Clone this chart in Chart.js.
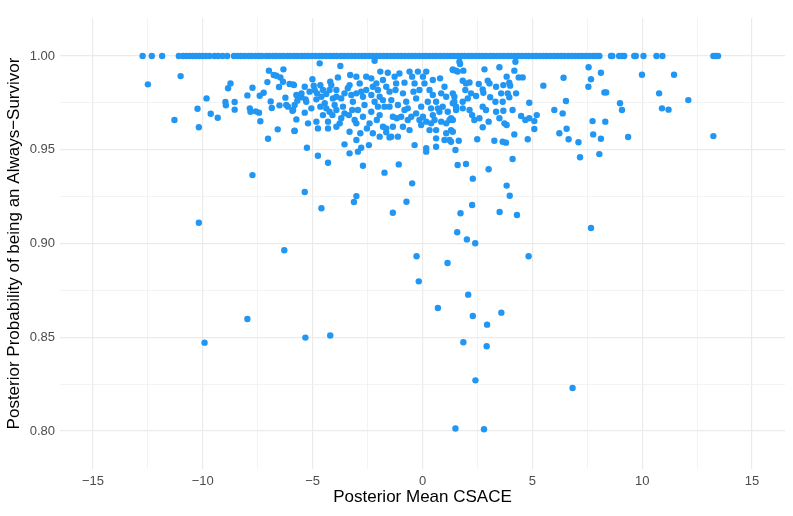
<!DOCTYPE html>
<html>
<head>
<meta charset="utf-8">
<script src="https://cdn.jsdelivr.net/npm/chart.js@4.4.1/dist/chart.umd.min.js"></script>
<style>
    html, body { margin: 0; padding: 0; background: #fff; }
    canvas { display: block; }
</style>
</head>
<body>
<canvas id="grafico" width="793" height="516"></canvas>
<script>
// Pontos com probabilidade posterior igual a 1 (linha do topo)
const topoX = [
    -12.74, -12.32, -11.85, -11.09, -10.9, -10.75, -10.6, -10.45, -10.3, -10.15, -10.0, -9.85, -9.7,
    -9.47, -9.3, -9.1, -8.89,
    -8.58, -8.41, -8.27, -8.1, -7.92, -7.78, -7.6, -7.45, -7.31, -7.12, -6.98, -6.8, -6.66, -6.49,
    -6.33, -6.15, -6.02, -5.84, -5.69, -5.51, -5.36, -5.2, -5.03, -4.87, -4.7, -4.55, -4.38, -4.21,
    -4.05, -3.9, -3.72, -3.57, -3.4, -3.24, -3.08, -2.91, -2.75, -2.6, -2.43, -2.27, -2.1, -1.95,
    -1.78, -1.62, -1.46, -1.3, -1.13, -0.97, -0.81, -0.64, -0.49, -0.33, -0.16, 0, 0.15, 0.31, 0.48,
    0.63, 0.8, 0.96, 1.12, 1.29, 1.44, 1.61, 1.77, 1.93, 2.1, 2.25, 2.42, 2.58, 2.74, 2.9, 3.07,
    3.22, 3.39, 3.55, 3.71, 3.88, 4.03, 4.2, 4.36, 4.52, 4.69, 4.84, 5.01, 5.17, 5.33, 5.5, 5.65,
    5.82, 5.98, 6.14, 6.31, 6.46, 6.63, 6.79, 6.95, 7.12, 7.27, 7.44, 7.6, 7.77, 7.91, 8.05,
    8.58, 8.64, 8.95, 9.08, 9.18, 9.64, 9.71, 10.06, 10.65, 10.92, 13.24, 13.35, 13.45
];

// Pontos abaixo de 1: [CSACE, probabilidade]
const pontosEsquerda = [
    [-12.5, 0.9849], [-11.01, 0.9893], [-11.29, 0.9659], [-9.83, 0.9774], [-10.24, 0.9719], [-10.18, 0.962],
    [-9.64, 0.9692], [-9.32, 0.9671], [-8.97, 0.9755], [-8.95, 0.9737], [-8.85, 0.9828], [-8.74, 0.9854],
    [-8.55, 0.9755], [-8.55, 0.9714], [-7.97, 0.979], [-7.74, 0.9831], [-7.86, 0.9721], [-7.83, 0.9703],
    [-7.59, 0.9705], [-7.44, 0.9698], [-7.38, 0.9652], [-7.41, 0.9788], [-7.23, 0.9804], [-6.99, 0.9922],
    [-7.06, 0.9861], [-6.77, 0.9899], [-6.65, 0.9895], [-6.47, 0.9886], [-6.33, 0.9929], [-6.35, 0.9863],
    [-6.53, 0.9835], [-6.91, 0.9758], [-6.86, 0.9723], [-6.51, 0.9737], [-6.24, 0.9778], [-6.2, 0.9739],
    [-6.05, 0.9851], [-5.85, 0.9845], [-6.12, 0.973], [-5.92, 0.9708], [-5.74, 0.9792], [-5.7, 0.9762],
    [-6.59, 0.9609], [-7.03, 0.9559], [-5.83, 0.96], [-5.74, 0.9662]
];

const pontosCentro = [
    [-4.68, 0.9961], [-3.74, 0.9947], [-2.18, 0.9975], [-5.89, 0.9849], [-5.01, 0.9876], [-4.95, 0.9842],
    [-4.65, 0.9844], [-5.14, 0.981], [-5.67, 0.9787], [-5.51, 0.978], [-5.32, 0.9769], [-5.29, 0.9756],
    [-5.82, 0.9739], [-5.89, 0.9712], [-5.36, 0.9698], [-5.06, 0.9721], [-4.83, 0.9769], [-4.83, 0.965],
    [-4.6, 0.9783], [-4.38, 0.9797], [-4.45, 0.9748], [-4.53, 0.9685], [-4.3, 0.965], [-4.3, 0.9614],
    [-4.2, 0.9863], [-4.15, 0.9845], [-3.92, 0.9819], [-3.85, 0.9886], [-4.08, 0.9774], [-4.0, 0.9739],
    [-3.7, 0.9774], [-3.62, 0.973], [-3.77, 0.9641], [-3.55, 0.9694], [-3.4, 0.9828], [-3.29, 0.9899],
    [-3.24, 0.9792], [-3.17, 0.9756], [-3.2, 0.9712], [-3.09, 0.9659], [-2.86, 0.9854], [-2.79, 0.981],
    [-2.71, 0.9783], [-2.64, 0.9739], [-2.71, 0.9676], [-2.53, 0.9614], [-2.83, 0.9588], [-2.33, 0.9881],
    [-2.26, 0.9836], [-2.33, 0.9792], [-2.18, 0.9756], [-2.33, 0.9703], [-2.08, 0.9659], [-1.92, 0.9917],
    [-1.58, 0.9911], [-1.8, 0.9872], [-1.95, 0.9783], [-1.73, 0.973], [-1.95, 0.9685], [-1.65, 0.9614],
    [-1.42, 0.9765], [-1.5, 0.981], [-1.27, 0.989], [-1.2, 0.9854], [-1.23, 0.9819], [-1.12, 0.9739],
    [-1.17, 0.9668], [-1.42, 0.957], [-1.12, 0.957], [-0.82, 0.9858], [-0.89, 0.9801], [-0.74, 0.9756],
    [-0.82, 0.9712], [-0.67, 0.9659], [-0.59, 0.9917], [-0.47, 0.989], [-0.36, 0.9854], [-0.41, 0.981],
    [-0.21, 0.9917], [0.17, 0.9917], [-0.14, 0.9819], [-0.29, 0.9774], [-0.06, 0.973], [-0.29, 0.9694],
    [-0.59, 0.9605], [-0.36, 0.9525], [-0.06, 0.9632], [0.17, 0.965], [0.39, 0.9641], [0.09, 0.9854],
    [0.32, 0.9819], [0.47, 0.9792], [0.24, 0.9756], [0.39, 0.9721], [0.62, 0.9756], [0.8, 0.9881],
    [1.0, 0.9836], [1.08, 0.9783], [0.92, 0.973], [1.15, 0.9703], [1.3, 0.9668], [1.38, 0.9925],
    [1.53, 0.9922], [1.45, 0.9756], [1.38, 0.9596], [1.0, 0.9552], [0.62, 0.9561], [0.62, 0.9516],
    [0.17, 0.9508], [0.17, 0.949], [1.3, 0.9543], [-5.26, 0.9511], [-4.76, 0.9468], [-4.3, 0.9431],
    [-3.55, 0.9529], [-3.32, 0.9481], [-3.01, 0.9552], [-2.79, 0.9511], [-2.94, 0.949], [-2.44, 0.9525],
    [-2.71, 0.9415], [-1.5, 0.9566], [-1.65, 0.9593], [-1.95, 0.957], [-1.08, 0.9422],
    [-5.82, 0.9602], [-4.8, 0.9801], [-4.65, 0.973], [-4.38, 0.9721], [-4.23, 0.9703], [-4.1, 0.9685],
    [-3.92, 0.9712], [-3.7, 0.9668], [-3.35, 0.9685], [-3.01, 0.9641], [-2.94, 0.9712], [-2.41, 0.9641],
    [-2.03, 0.973], [-1.8, 0.9765], [-1.5, 0.973], [-1.35, 0.9676], [-0.97, 0.9676], [-0.67, 0.9721],
    [-0.51, 0.9676], [-0.14, 0.9659], [0.02, 0.9676], [0.55, 0.9659], [0.85, 0.965], [1.08, 0.9641],
    [1.23, 0.9659], [0.7, 0.9721], [0.85, 0.9801], [1.38, 0.9801], [1.53, 0.9712], [0.47, 0.9872],
    [0.02, 0.989], [-1.05, 0.9907], [-2.56, 0.989], [-3.01, 0.989], [-3.32, 0.9845], [-2.1, 0.9854],
    [-1.65, 0.9836], [-2.03, 0.9819], [-2.56, 0.9819], [-3.01, 0.9801], [-3.55, 0.9801], [-3.92, 0.9783],
    [-4.23, 0.9819], [-4.53, 0.9819], [-4.91, 0.9819], [-5.36, 0.9836], [-5.51, 0.9801], [-1.35, 0.9623],
    [-0.89, 0.9623], [-1.8, 0.9623], [-2.26, 0.9588], [-3.32, 0.9596], [-3.92, 0.9623], [-4.76, 0.9614],
    [-5.21, 0.9641], [0.32, 0.9605], [0.62, 0.9605], [1.08, 0.9588], [0.77, 0.9703], [0.47, 0.9685]
];

const pontosDireita = [
    [1.68, 0.997], [1.71, 0.9957], [4.23, 0.997], [1.38, 0.9929], [1.6, 0.9917], [1.86, 0.9922],
    [2.82, 0.9929], [3.5, 0.994], [4.18, 0.9922], [3.83, 0.989], [4.38, 0.9886], [4.56, 0.9886],
    [1.83, 0.9868], [1.98, 0.9854], [2.14, 0.9859], [2.56, 0.9851], [2.74, 0.9822], [2.97, 0.9868],
    [3.05, 0.9854], [3.35, 0.9836], [3.68, 0.9845], [3.95, 0.9858], [3.99, 0.9842], [3.58, 0.9801],
    [3.88, 0.9801], [4.26, 0.9801], [3.95, 0.978], [3.65, 0.9756], [3.32, 0.9756], [3.08, 0.978],
    [2.77, 0.9804], [2.44, 0.9787], [2.21, 0.9801], [1.95, 0.9819], [2.06, 0.9774], [1.83, 0.9756],
    [1.45, 0.9783], [1.38, 0.9748], [1.53, 0.973], [1.83, 0.9721], [2.14, 0.9712], [2.26, 0.9685],
    [2.36, 0.9659], [2.59, 0.9668], [2.74, 0.973], [2.89, 0.9712], [3.01, 0.965], [3.35, 0.9703],
    [3.5, 0.9668], [3.68, 0.9708], [3.73, 0.9641], [3.83, 0.9632], [4.1, 0.9712], [4.49, 0.968],
    [4.68, 0.9659], [4.86, 0.9668], [5.2, 0.9685], [5.09, 0.9653], [4.86, 0.9751], [5.5, 0.9842],
    [6.42, 0.9884], [6.53, 0.976], [6.0, 0.9712], [6.38, 0.9694], [5.09, 0.9611], [4.79, 0.9556],
    [4.18, 0.9582], [3.65, 0.9543], [3.8, 0.9538], [3.27, 0.9548], [2.49, 0.9556], [2.74, 0.962],
    [1.65, 0.9548], [1.5, 0.9499], [1.6, 0.9419], [1.98, 0.9424], [3.01, 0.9396], [4.1, 0.9451],
    [6.23, 0.9588], [6.56, 0.9612], [6.65, 0.9556], [7.1, 0.954], [7.17, 0.946], [7.56, 0.994],
    [8.12, 0.9911], [7.67, 0.9876], [7.55, 0.9836], [8.28, 0.9806], [8.36, 0.9806], [7.74, 0.9653],
    [8.32, 0.965], [7.77, 0.9582], [8.12, 0.9559], [8.05, 0.9477], [1.38, 0.9659], [1.3, 0.9605],
    [1.23, 0.9552],
    [9.99, 0.99], [11.45, 0.99], [10.77, 0.9801], [12.1, 0.9765], [8.99, 0.9748], [9.08, 0.9712],
    [10.9, 0.9721], [11.2, 0.9714], [9.36, 0.9568], [13.24, 0.9573]
];

const pontosBaixos = [
    [-7.74, 0.9365], [-10.18, 0.9111], [-6.29, 0.8964], [-5.36, 0.9275], [-1.73, 0.9378], [-4.6, 0.9188],
    [-3.01, 0.9253], [-3.12, 0.9221], [-1.35, 0.9164], [-7.97, 0.8597], [-9.92, 0.8471], [-5.33, 0.8498],
    [-4.2, 0.8509], [-0.47, 0.9321], [2.29, 0.9346], [3.83, 0.9309], [3.97, 0.9255], [-0.73, 0.9223],
    [2.26, 0.9205], [1.73, 0.9161], [3.51, 0.9168], [4.3, 0.9152], [1.58, 0.906], [2.02, 0.9022],
    [2.4, 0.9001], [7.67, 0.9083], [-0.27, 0.8932], [1.14, 0.8896], [4.83, 0.8932], [-0.17, 0.8798],
    [2.08, 0.8727], [0.7, 0.8656], [2.29, 0.8613], [3.59, 0.8631], [2.94, 0.8567], [1.86, 0.8473],
    [2.92, 0.8452], [2.41, 0.827], [6.83, 0.8229], [1.5, 0.8013], [2.8, 0.8009]
];

// Marcas dos eixos
const xPrincipais = [-15, -10, -5, 0, 5, 10, 15];
const xSecundarios = [-12.5, -7.5, -2.5, 2.5, 7.5, 12.5];
const yPrincipais = [0.80, 0.85, 0.90, 0.95, 1.00];
const ySecundarios = [0.825, 0.875, 0.925, 0.975];

const AZUL = '#2196F3';
const GRADE = '#ebebeb';
const GRADE_FINA = '#f2f2f2';

Chart.defaults.font.family = "'Liberation Sans', Arial, sans-serif";

const ehPrincipal = (lista, v) => lista.some(p => Math.abs(p - v) < 1e-6);
const menos = (txt) => txt.replace('-', '\u2212');

const pontos = [
    ...topoX.map(x => ({ x, y: 1 })),
    ...[...pontosEsquerda, ...pontosCentro, ...pontosDireita, ...pontosBaixos].map(([x, y]) => ({ x, y }))
];

new Chart(document.getElementById('grafico').getContext('2d'), {
    type: 'scatter',
    data: {
        datasets: [{
            data: pontos,
            backgroundColor: AZUL,
            borderWidth: 0,
            pointRadius: 3.2,
            pointHoverRadius: 3.2
        }]
    },
    options: {
        responsive: false,
        animation: false,
        layout: {
            padding: { left: 0, right: 8, top: 18, bottom: 0 }
        },
        plugins: {
            legend: { display: false },
            tooltip: { enabled: false }
        },
        scales: {
            x: {
                type: 'linear',
                min: -16.5,
                max: 16.5,
                afterBuildTicks: (s) => {
                    s.ticks = [...xPrincipais, ...xSecundarios].sort((a, b) => a - b).map(v => ({ value: v }));
                },
                afterFit: (s) => { s.height = 47; },
                border: { display: false },
                grid: {
                    drawTicks: false,
                    color: (c) => ehPrincipal(xPrincipais, c.tick.value) ? GRADE : GRADE_FINA,
                    lineWidth: (c) => ehPrincipal(xPrincipais, c.tick.value) ? 1.2 : 0.9
                },
                ticks: {
                    autoSkip: false,
                    maxRotation: 0,
                    padding: 5,
                    color: '#4d4d4d',
                    font: { size: 13 },
                    callback: (v) => ehPrincipal(xPrincipais, v) ? menos(String(v)) : ''
                },
                title: {
                    display: true,
                    text: 'Posterior Mean CSACE',
                    color: '#000',
                    font: { size: 17 },
                    padding: { top: 0, bottom: 8 }
                }
            },
            y: {
                type: 'linear',
                min: 0.7797,
                max: 1.0203,
                afterBuildTicks: (s) => {
                    s.ticks = [...yPrincipais, ...ySecundarios].sort((a, b) => a - b).map(v => ({ value: v }));
                },
                afterFit: (s) => { s.width = 60; },
                border: { display: false },
                grid: {
                    drawTicks: false,
                    color: (c) => ehPrincipal(yPrincipais, c.tick.value) ? GRADE : GRADE_FINA,
                    lineWidth: (c) => ehPrincipal(yPrincipais, c.tick.value) ? 1.2 : 0.9
                },
                ticks: {
                    autoSkip: false,
                    padding: 5,
                    color: '#4d4d4d',
                    font: { size: 13 },
                    callback: (v) => ehPrincipal(yPrincipais, v) ? Number(v).toFixed(2) : ''
                },
                title: {
                    display: true,
                    text: 'Posterior Probability of being an Always\u2212Survivor',
                    color: '#000',
                    font: { size: 17 },
                    padding: { top: 4, bottom: 0 }
                }
            }
        }
    }
});
</script>
</body>
</html>
